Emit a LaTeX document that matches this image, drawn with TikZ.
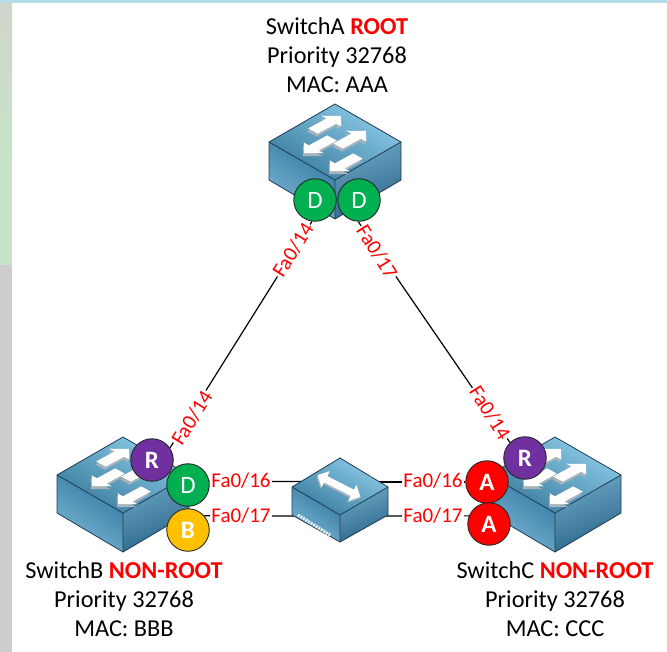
\documentclass[tikz,border=0pt]{standalone}
\usepackage{fontspec}
\setmainfont{Carlito}
\usetikzlibrary{calc}
\pgfdeclarelayer{links}
\pgfdeclarelayer{boxes}
\pgfsetlayers{links,boxes,main}
\definecolor{edgec}{HTML}{1E3D52}
\definecolor{shadowc}{HTML}{A9B4BA}
\definecolor{rootred}{HTML}{FF0000}
\definecolor{portgreen}{RGB}{0,176,80}
\definecolor{portpurple}{RGB}{112,48,160}
\definecolor{portyellow}{RGB}{255,192,0}
\definecolor{stripgrey}{RGB}{208,213,204}
\definecolor{stripgreen}{RGB}{198,228,200}
\definecolor{stripbottom}{RGB}{205,205,205}
\definecolor{stripblue}{RGB}{181,220,233}
\definecolor{hsA}{HTML}{2E77A0}
\definecolor{hsB}{HTML}{7DB6D4}
\definecolor{hsC}{HTML}{6CA5C4}
\definecolor{hsD}{HTML}{2A668A}
\definecolor{hsE}{HTML}{8CCBE8}
\definecolor{hsF}{HTML}{6AACCE}
\definecolor{hsG}{HTML}{3A7B9E}
\tikzset{
  x=1pt,y=-1pt,
  port/.style={circle,draw=black!85,line width=0.9pt,minimum size=42.5pt,inner sep=0pt,text=white,font=\fontsize{25}{25}\selectfont},
  dp/.style={port,fill=portgreen},
  rp/.style={port,fill=portpurple,font=\fontsize{25}{25}\selectfont\bfseries},
  bp/.style={port,fill=portyellow,font=\fontsize{25}{25}\selectfont\bfseries},
  ap/.style={port,fill=red,font=\fontsize{25}{25}\selectfont\bfseries},
  link/.style={draw=black,line width=1.2pt},
  iflabel/.style={text=red,fill=white,inner sep=1pt,font=\fontsize{21}{21}\selectfont},
  caption/.style={align=center,font=\fontsize{24.3}{29}\selectfont,text=black,inner sep=0pt},
  face/.style={draw=edgec,line width=0.8pt,line join=round},
}
\newcommand{\hotrole}[1]{\textcolor{rootred}{\textbf{#1}}}
% x y sign length: arrow lying flat on the top face
\newcommand{\isoarrow}[4]{%
  \begin{scope}[shift={(#1,#2)},shift={(-1,3)},x={(#3*0.87pt,#3*0.47pt)},y={(0.87pt,-0.47pt)}]
    \fill[shadowc] (0,-5.5) -- (#4-11,-5.5) -- (#4-11,-11.5) -- (#4,0) -- (#4-11,11.5) -- (#4-11,5.5) -- (0,5.5) -- cycle;
  \end{scope}
  \begin{scope}[shift={(#1,#2)},x={(#3*0.87pt,#3*0.47pt)},y={(0.87pt,-0.47pt)}]
    \fill[white] (0,-5.5) -- (#4-11,-5.5) -- (#4-11,-11.5) -- (#4,0) -- (#4-11,11.5) -- (#4-11,5.5) -- (0,5.5) -- cycle;
  \end{scope}
}
\tikzset{
  bigswitch/.pic={
    \shade[left color=hsA,right color=hsB,shading angle=-35] (-66,0) -- (0,38) -- (0,77) -- (-66,38) -- cycle;
    \shade[top color=hsC,bottom color=hsD,shading angle=20] (66,0) -- (0,38) -- (0,77) -- (66,38) -- cycle;
    \shade[left color=hsE,middle color=hsF,right color=hsG,shading angle=-30] (0,-38) -- (66,0) -- (0,38) -- (-66,0) -- cycle;
    \draw[face] (0,-38) -- (66,0) -- (66,38) -- (0,77) -- (-66,38) -- (-66,0) -- cycle;
    \draw[face] (-66,0) -- (0,38) -- (66,0) (0,38) -- (0,77);
    \isoarrow{-22}{-11}{1}{32}
    \isoarrow{-3}{-4}{-1}{32}
    \isoarrow{3}{4}{1}{32}
    \isoarrow{23}{14}{-1}{32}
  },
  smallswitch/.pic={
    \shade[left color=hsA,right color=hsB,shading angle=-35] (-48,0) -- (0,28) -- (0,55) -- (-48,28) -- cycle;
    \shade[top color=hsC,bottom color=hsD,shading angle=20] (48,0) -- (0,28) -- (0,55) -- (48,28) -- cycle;
    \shade[left color=hsE,middle color=hsF,right color=hsG,shading angle=-30] (0,-29) -- (48,0) -- (0,28) -- (-48,0) -- cycle;
    \draw[face] (0,-29) -- (48,0) -- (48,28) -- (0,55) -- (-48,28) -- (-48,0) -- cycle;
    \draw[face] (-48,0) -- (0,28) -- (48,0) (0,28) -- (0,55);
    \begin{scope}[shift={(-1,-1)},rotate=-27]
      \fill[shadowc] (-24,2) -- (-15,-7) -- (-15,-1.5) -- (15,-1.5) -- (15,-7) -- (24,2) -- (15,11) -- (15,5.5) -- (-15,5.5) -- (-15,11) -- cycle;
      \fill[white] (-24,0) -- (-15,-9) -- (-15,-3.5) -- (15,-3.5) -- (15,-9) -- (24,0) -- (15,9) -- (15,3.5) -- (-15,3.5) -- (-15,9) -- cycle;
    \end{scope}
    \draw[draw=white!85!hsC,line width=3pt,dash pattern=on 2pt off 1pt] (-42,28) -- (-10,48);
  },
}
\begin{document}
\begin{tikzpicture}
\useasboundingbox (0,0) rectangle (667,652);
% backdrop strips
\begin{pgfonlayer}{links}
\shade[top color=stripgrey,bottom color=stripgreen] (0,3) rectangle (12,160);
\fill[stripgreen] (0,160) rectangle (12,265);
\fill[stripbottom] (0,265) rectangle (12,652);
\fill[stripblue] (0,0) rectangle (667,3);
\end{pgfonlayer}
\coordinate (mUL) at (305,481.5);
\coordinate (mLL) at (300,516);
\coordinate (mUR) at (375,482);
\coordinate (mLR) at (380,516);
% ports
\node[dp] (aD1) at (315,200) {D};
\node[dp] (aD2) at (359,200) {D};
\node[rp] (bR) at (152,460) {R};
\node[dp] (bD) at (188,485) {D};
\node[bp] (bB) at (188,530) {B};
\node[rp] (cR) at (525,458) {R};
\node[ap] (cA1) at (487,482) {A};
\node[ap] (cA2) at (489,524) {A};
% links
\begin{pgfonlayer}{links}
\draw[link] (aD1.-98) -- (bR.34);
\draw[link] (aD2.-92) -- (cR.134);
\draw[link] (bD.10) -- (mUL);
\draw[link] (bB.41) -- (mLL);
\draw[link] (mUR) -- (cA1.west);
\draw[link] (mLR) -- (cA2.158);
\end{pgfonlayer}
% switches
\begin{pgfonlayer}{boxes}
\pic at (335,142) {bigswitch};
\pic at (123,475) {bigswitch};
\pic at (555,475) {bigswitch};
\pic at (340,487) {smallswitch};
\end{pgfonlayer}
% interface labels
\node[iflabel,rotate=58] (l1) at (293,250) {Fa0/14};
\node[iflabel,rotate=-58] (l2) at (377,252) {Fa0/17};
\node[iflabel,rotate=58] (l3) at (192,418) {Fa0/14};
\node[iflabel,rotate=-58] (l4) at (490,413) {Fa0/14};
\node[iflabel] (l5) at (241,481) {Fa0/16};
\node[iflabel] (l6) at (241,516) {Fa0/17};
\node[iflabel] (l7) at (433,481) {Fa0/16};
\node[iflabel] (l8) at (433,516) {Fa0/17};
% captions
\node[caption] (capA) at (337,55) {SwitchA \hotrole{ROOT}\\Priority 32768\\MAC: AAA};
\node[caption] (capB) at (124,599) {SwitchB \hotrole{NON-ROOT}\\Priority 32768\\MAC: BBB};
\node[caption] (capC) at (555,599) {SwitchC \hotrole{NON-ROOT}\\Priority 32768\\MAC: CCC};
\end{tikzpicture}
\end{document}
